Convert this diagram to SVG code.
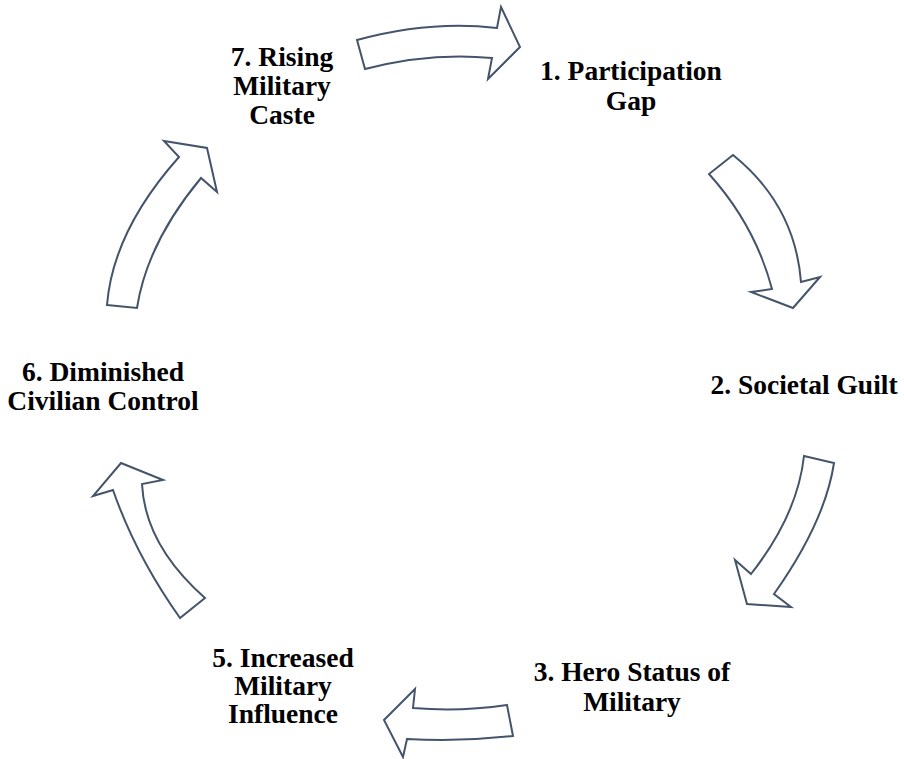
<svg xmlns="http://www.w3.org/2000/svg" width="904" height="759" viewBox="0 0 904 759">
<style>
.arrow{fill:#ffffff;stroke:#44546a;stroke-width:2;stroke-linejoin:miter}
.lbl{font-family:"Liberation Serif","Times New Roman",serif;font-weight:bold;font-size:27.5px;fill:#000000;text-anchor:middle}
</style>
<rect width="904" height="759" fill="#ffffff"/>
<g id="connectors">
<path class="arrow" d="M357,40 Q430,20 497,28 L501,7 L520,47 L488,79 L492,58 Q430,52 365,69 Z"/>
<path class="arrow" d="M733,155 Q795,205 801,282 L820,277 L793,308 L751,292 L772,289 Q755,225 709,174 Z"/>
<path class="arrow" d="M804,456 L834,463 Q825,522 774,594 L791,607 L747,604 L735,560 L751,574 Q797.5,515 804,456 Z"/>
<path class="arrow" d="M507,705 L513,736 Q460,742 407,739 L403,757 L384,720 L415,689 L413,708 Q460,712 507,705 Z"/>
<path class="arrow" d="M205,598 L180,618 Q136,556 113,490 L93,496 L121,463 L163,480 L142,484 Q145,545 205,598 Z"/>
<path class="arrow" d="M107,305 L137,308 Q147,243 201,178 L217,192 L207,148 L164,141 L179,157 Q113,231 107,305 Z"/>
</g>
<g id="node1"><text class="lbl" x="631" y="80">1. Participation</text><text class="lbl" x="631" y="110">Gap</text></g>
<g id="node2"><text class="lbl" x="804" y="394">2. Societal Guilt</text></g>
<g id="node3"><text class="lbl" x="632" y="681">3. Hero Status of</text><text class="lbl" x="632" y="711">Military</text></g>
<g id="node5"><text class="lbl" x="283" y="667">5. Increased</text><text class="lbl" x="283" y="695">Military</text><text class="lbl" x="283" y="723">Influence</text></g>
<g id="node6"><text class="lbl" x="103" y="381">6. Diminished</text><text class="lbl" x="103" y="410">Civilian Control</text></g>
<g id="node7"><text class="lbl" x="282" y="66">7. Rising</text><text class="lbl" x="282" y="95">Military</text><text class="lbl" x="282" y="124">Caste</text></g>
</svg>
